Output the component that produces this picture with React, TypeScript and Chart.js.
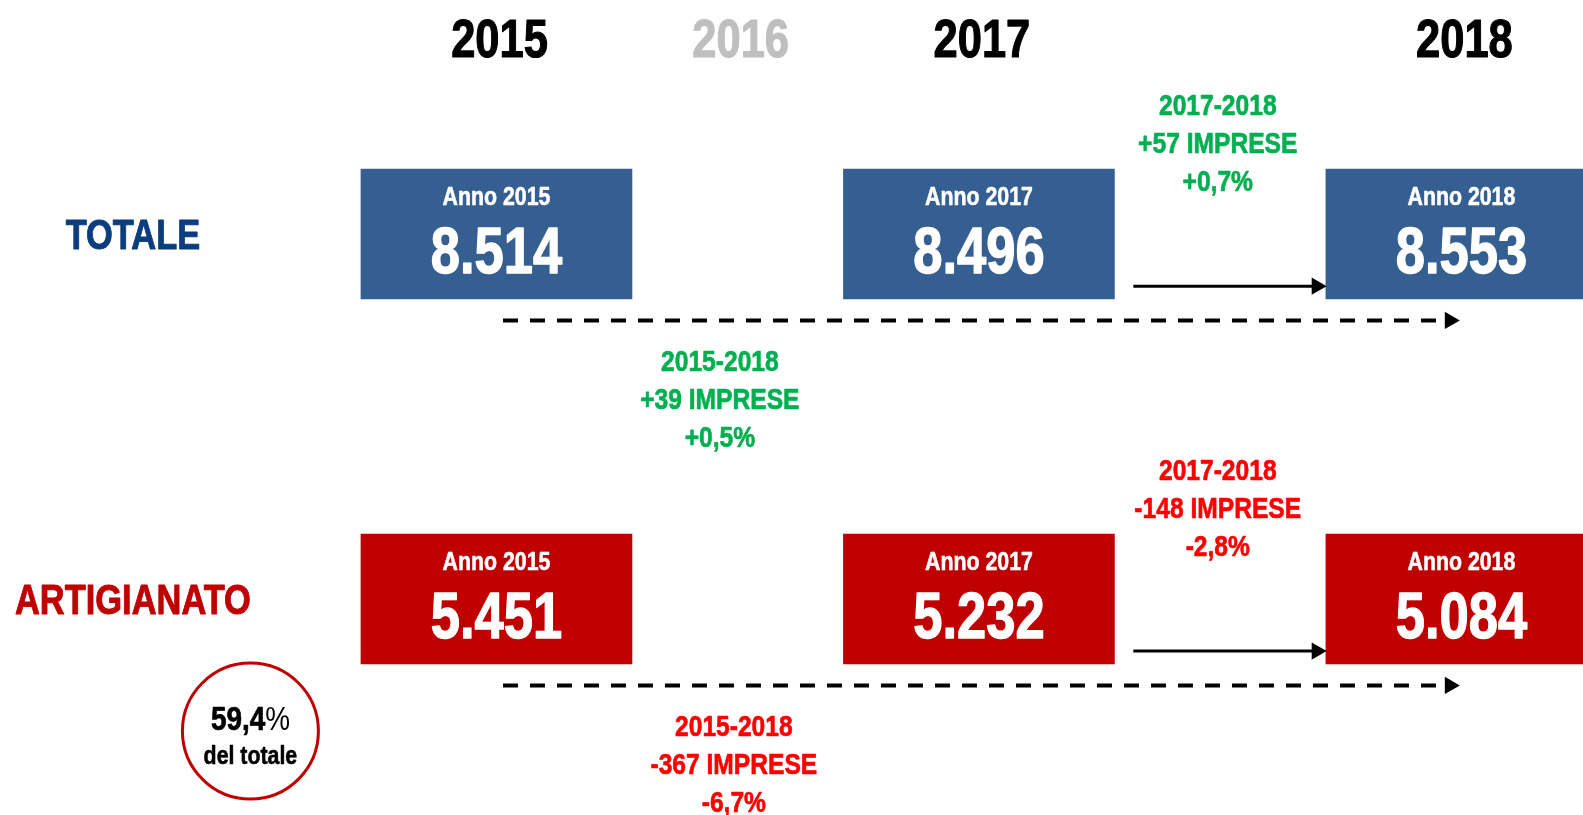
import React, { useEffect, useRef } from 'react';
import { Chart, registerables } from 'chart.js';

Chart.register(...registerables);

// ---------- DATA ----------
const yearLabels = ['2015', '2016', '2017', '2018'];
const rowNames = ['TOTALE', 'ARTIGIANATO'];
const boxYears = ['2015', '2017', '2018'];
const totaleValues = [8514, 8496, 8553];
const artigianatoValues = [5451, 5232, 5084];
const unitLabel = 'IMPRESE';
const shareLabel = 'del totale';

// ---------- LAYOUT (positions in scale units) ----------
const yearSlots = [0, 1, 2, 4];
const boxSlots = [0, 2, 4];
const X_MIN = -2.058;
const X_MAX = 4.504;
const Y_MIN = -0.641;
const Y_MAX = 1.592;
const BOX_HALF = 0.178;
const ROW_LABEL_X = -1.507;
const SHORT_LABEL_X = 2.99;
const LONG_LABEL_X = [0.926, 0.984];
const DASH_FROM = 0.027;
const DASH_TO = 3.952;
const DASH_DY = 0.237;
const SOLID_FROM = 2.64;
const SOLID_TO = 3.4;
const SOLID_DY = 0.143;
const CIRCLE_X = -1.02;
const CIRCLE_DY = 0.362;

// ---------- STYLE ----------
const FONT = '"Liberation Sans", Arial, sans-serif';
const NARROW = 0.82;
const yearColors = ['#000000', '#BFBFBF', '#000000', '#000000'];
const rowLabelColors = ['#0B3C7D', '#C00000'];
const boxColors = ['#365F91', '#C00000'];
const POS = '#00B050';
const NEG = '#FF0000';

const rowValues = [totaleValues, artigianatoValues];

function fmtInt(v: number): string {
  const s = Math.abs(v).toString().replace(/\B(?=(\d{3})+(?!\d))/g, '.');
  return (v < 0 ? '-' : '') + s;
}
function fmtSigned(v: number): string {
  return (v > 0 ? '+' : '') + fmtInt(v);
}
function fmtPct(v: number, signed: boolean): string {
  const s = Math.abs(v).toFixed(1).replace('.', ',');
  const sign = v < 0 ? '-' : signed && v > 0 ? '+' : '';
  return sign + s + '%';
}

function drawNarrow(
  ctx: CanvasRenderingContext2D,
  text: string,
  x: number,
  y: number,
  size: number,
  color: string,
  weight = 'bold',
  align: CanvasTextAlign = 'center'
) {
  ctx.save();
  ctx.translate(x, y);
  ctx.scale(NARROW, 1);
  ctx.font = `${weight} ${size}px ${FONT}`;
  ctx.fillStyle = color;
  ctx.textAlign = align;
  ctx.textBaseline = 'alphabetic';
  ctx.fillText(text, 0, 0);
  if (weight === 'bold') {
    ctx.strokeStyle = color;
    ctx.lineJoin = 'round';
    ctx.lineWidth = size * 0.022;
    ctx.strokeText(text, 0, 0);
  }
  ctx.restore();
}

function measureNarrow(ctx: CanvasRenderingContext2D, text: string, size: number, weight = 'bold') {
  ctx.save();
  ctx.font = `${weight} ${size}px ${FONT}`;
  const w = ctx.measureText(text).width * NARROW;
  ctx.restore();
  return w;
}

const textPlugin = {
  id: 'infographicText',
  afterDatasetsDraw(chart: any) {
    const { ctx } = chart;
    const xs = chart.scales.x;
    const ys = chart.scales.y;
    const top = chart.chartArea.top;

    // year headers
    yearLabels.forEach((lab, i) => {
      drawNarrow(ctx, lab, xs.getPixelForValue(yearSlots[i]) + 3, top + 57, 53, yearColors[i]);
    });

    // row labels
    rowNames.forEach((name, r) => {
      drawNarrow(ctx, name, xs.getPixelForValue(ROW_LABEL_X), ys.getPixelForValue(r) + 15.5, 42, rowLabelColors[r]);
    });

    // box texts
    [0, 1].forEach((r) => {
      const meta = chart.getDatasetMeta(r);
      meta.data.forEach((bar: any, i: number) => {
        const cy = (bar.y + bar.base) / 2;
        drawNarrow(ctx, 'Anno ' + boxYears[i], bar.x, cy - 29, 26, '#FFFFFF');
        drawNarrow(ctx, fmtInt(rowValues[r][i]), bar.x, cy + 39, 64, '#FFFFFF');
      });
    });

    // change annotations
    rowValues.forEach((vals, r) => {
      const rowPx = ys.getPixelForValue(r);
      const n = vals.length;
      const shortDiff = vals[n - 1] - vals[n - 2];
      const shortPct = (shortDiff / vals[n - 2]) * 100;
      const longDiff = vals[n - 1] - vals[0];
      const longPct = (longDiff / vals[0]) * 100;

      const shortLines = [
        `${boxYears[n - 2]}-${boxYears[n - 1]}`,
        `${fmtSigned(shortDiff)} ${unitLabel}`,
        fmtPct(shortPct, true),
      ];
      const longLines = [
        `${boxYears[0]}-${boxYears[n - 1]}`,
        `${fmtSigned(longDiff)} ${unitLabel}`,
        fmtPct(longPct, true),
      ];
      const sx = xs.getPixelForValue(SHORT_LABEL_X);
      shortLines.forEach((t, k) => {
        drawNarrow(ctx, t, sx, rowPx - 119 + k * 38, 30, shortDiff >= 0 ? POS : NEG);
      });
      const lx = xs.getPixelForValue(LONG_LABEL_X[r]);
      longLines.forEach((t, k) => {
        drawNarrow(ctx, t, lx, rowPx + 137 + k * 38, 30, longDiff >= 0 ? POS : NEG);
      });
    });

    // share circle text
    const circMeta = chart.getDatasetMeta(chart.data.datasets.length - 1);
    const pt = circMeta.data[0];
    if (pt) {
      const share = (artigianatoValues[artigianatoValues.length - 1] / totaleValues[totaleValues.length - 1]) * 100;
      const numTxt = share.toFixed(1).replace('.', ',');
      const wNum = measureNarrow(ctx, numTxt, 34, 'bold');
      const wPct = measureNarrow(ctx, '%', 34, 'normal');
      const startX = pt.x - (wNum + wPct) / 2;
      drawNarrow(ctx, numTxt, startX, pt.y - 1.5, 34, '#000000', 'bold', 'left');
      drawNarrow(ctx, '%', startX + wNum, pt.y - 1.5, 34, '#000000', 'normal', 'left');
      drawNarrow(ctx, shareLabel, pt.x, pt.y + 32.5, 26, '#000000');
    }
  },
};

function buildDatasets(): any[] {
  const bars = rowValues.map((vals, r) => ({
    type: 'bar',
    label: rowNames[r],
    data: vals.map((_, i) => ({ x: boxSlots[i], y: [r - BOX_HALF, r + BOX_HALF] })),
    backgroundColor: boxColors[r],
    borderWidth: 0,
    borderSkipped: false,
    barThickness: 271,
    grouped: false,
    clip: false,
    order: 2,
  }));
  const arrowCommon = {
    type: 'line',
    borderColor: '#000000',
    backgroundColor: '#000000',
    pointStyle: 'triangle',
    pointRotation: 90,
    pointRadius: [0, 10],
    pointBackgroundColor: '#000000',
    pointBorderWidth: 0,
    pointHoverRadius: 0,
    tension: 0,
    fill: false,
    clip: false,
    order: 1,
  };
  const dashed = rowValues.map((_, r) => ({
    ...arrowCommon,
    label: 'dash' + r,
    data: [
      { x: DASH_FROM, y: r + DASH_DY },
      { x: DASH_TO, y: r + DASH_DY },
    ],
    borderWidth: 4,
    borderDash: [15, 12],
  }));
  const solid = rowValues.map((_, r) => ({
    ...arrowCommon,
    label: 'solid' + r,
    data: [
      { x: SOLID_FROM, y: r + SOLID_DY },
      { x: SOLID_TO, y: r + SOLID_DY },
    ],
    borderWidth: 3,
  }));
  const circle = {
    type: 'line',
    label: 'share',
    data: [{ x: CIRCLE_X, y: 1 + CIRCLE_DY }],
    showLine: false,
    pointStyle: 'circle',
    pointRadius: 68,
    pointHoverRadius: 68,
    pointBackgroundColor: '#FFFFFF',
    pointBorderColor: '#C00000',
    pointBorderWidth: 3,
    clip: false,
    order: 1,
  };
  return [...bars, ...dashed, ...solid, circle];
}

export default function App() {
  const ref = useRef<HTMLCanvasElement | null>(null);
  useEffect(() => {
    if (!ref.current) return;
    const chart = new Chart(ref.current, {
      type: 'bar',
      data: { datasets: buildDatasets() },
      options: {
        responsive: false,
        maintainAspectRatio: false,
        devicePixelRatio: 1,
        animation: false,
        events: [],
        layout: { padding: 0, autoPadding: false },
        scales: {
          x: { type: 'linear', min: X_MIN, max: X_MAX, display: false, offset: false, grid: { display: false } },
          y: { type: 'linear', min: Y_MIN, max: Y_MAX, reverse: true, display: false, grid: { display: false } },
        },
        plugins: {
          legend: { display: false },
          tooltip: { enabled: false },
        },
      } as any,
      plugins: [textPlugin],
    } as any);
    return () => chart.destroy();
  }, []);
  return (
    <div style={{ position: 'fixed', left: 0, top: 0, width: 1583, height: 815, background: '#FFFFFF' }}>
      <canvas ref={ref} width={1583} height={815} style={{ display: 'block' }} />
    </div>
  );
}
